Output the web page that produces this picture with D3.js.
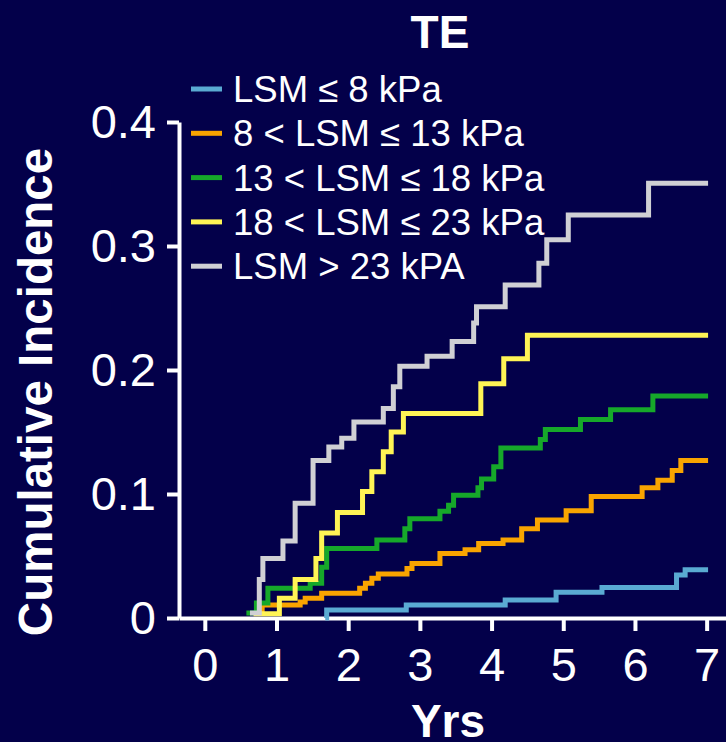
<!DOCTYPE html>
<html>
<head>
<meta charset="utf-8">
<script src="https://cdn.jsdelivr.net/npm/d3@7"></script>
<style>
  html, body { margin: 0; padding: 0; background: #03004a; }
  svg { display: block; }
  text { font-family: "Liberation Sans", Arial, sans-serif; fill: #fff; }
</style>
</head>
<body>
<script>
// step times (yrs) and cumulative incidence
const blueT = [1.68, 1.70, 2.81, 4.19, 4.90, 5.54, 6.58, 6.70];
const blueV = [0.000, 0.0065, 0.0105, 0.0145, 0.0207, 0.0245, 0.0347, 0.039];

const orangeT = [0.72, 0.80, 1.33, 1.40, 1.63, 2.16, 2.24, 2.33, 2.42, 2.82, 2.89, 3.28, 3.63, 3.82, 4.16, 4.42, 4.64, 5.04, 5.39, 6.10, 6.32, 6.52, 6.64];
const orangeV = [0.005, 0.0105, 0.013, 0.016, 0.020, 0.024, 0.028, 0.032, 0.0355, 0.040, 0.044, 0.052, 0.055, 0.060, 0.063, 0.072, 0.079, 0.0865, 0.098, 0.105, 0.111, 0.119, 0.127];

const greenT = [0.58, 0.72, 0.88, 1.47, 1.63, 1.70, 2.40, 2.79, 2.86, 3.28, 3.40, 3.47, 3.81, 3.86, 4.03, 4.13, 4.68, 4.75, 5.24, 5.66, 6.25];
const greenV = [0.004, 0.012, 0.024, 0.028, 0.041, 0.056, 0.063, 0.072, 0.080, 0.086, 0.091, 0.099, 0.105, 0.112, 0.122, 0.137, 0.144, 0.152, 0.160, 0.168, 0.179];

const yellowT = [0.68, 1.04, 1.26, 1.55, 1.63, 1.85, 2.20, 2.33, 2.49, 2.60, 2.77, 3.85, 4.17, 4.50];
const yellowV = [0.0035, 0.016, 0.031, 0.048, 0.0685, 0.085, 0.102, 0.118, 0.134, 0.150, 0.165, 0.189, 0.209, 0.228];

const grayT = [0.63, 0.76, 0.81, 1.09, 1.26, 1.51, 1.73, 1.91, 2.08, 2.49, 2.63, 2.72, 3.10, 3.45, 3.75, 3.79, 4.19, 4.66, 4.77, 5.07, 6.19];
const grayV = [0.004, 0.031, 0.048, 0.062, 0.0925, 0.127, 0.138, 0.145, 0.158, 0.169, 0.1865, 0.203, 0.211, 0.223, 0.238, 0.251, 0.2685, 0.286, 0.305, 0.325, 0.3506];

const endT = 7.02;
const legendLabels = ["LSM \u2264 8 kPa", "8 < LSM \u2264 13 kPa", "13 < LSM \u2264 18 kPa", "18 < LSM \u2264 23 kPa", "LSM > 23 kPA"];
const seriesColors = ["#5aaad2", "#f9a400", "#16a82a", "#fff455", "#d0d0d4"];
const xTicks = [0, 1, 2, 3, 4, 5, 6, 7];
const yTicks = [0, 0.1, 0.2, 0.3, 0.4];

const width = 726, height = 742;

const series = [
  {t: blueT, v: blueV}, {t: orangeT, v: orangeV}, {t: greenT, v: greenV},
  {t: yellowT, v: yellowV}, {t: grayT, v: grayV}
].map((s, i) => {
  const pts = s.t.map((t, j) => [t, s.v[j]]);
  pts.push([endT, s.v[s.v.length - 1]]);
  return {label: legendLabels[i], color: seriesColors[i], pts: pts};
});

const svg = d3.select("body").append("svg")
  .attr("width", width)
  .attr("height", height);

svg.append("rect").attr("width", width).attr("height", height).attr("fill", "#03004a");

const x = d3.scaleLinear().domain([-0.36, 7.27]).range([179, 726]);
const y = d3.scaleLinear().domain([0, 0.4]).range([618, 122]);

// x axis
const xAxis = svg.append("g")
  .attr("transform", `translate(0, ${y(0)})`)
  .call(d3.axisBottom(x).tickValues(xTicks).tickSize(13).tickSizeOuter(0).tickPadding(17));
xAxis.select(".domain").attr("stroke", "#fff").attr("stroke-width", 4);
xAxis.selectAll(".tick line").attr("stroke", "#fff").attr("stroke-width", 4);
xAxis.selectAll(".tick text").attr("font-size", 47).attr("fill", "#fff")
  .attr("font-family", "Liberation Sans, Arial, sans-serif");

// y axis
const yAxis = svg.append("g")
  .attr("transform", `translate(${x.range()[0]}, 0)`)
  .call(d3.axisLeft(y).tickValues(yTicks).tickSize(12).tickSizeOuter(0).tickPadding(11)
    .tickFormat(d => d === 0 ? "0" : d3.format(".1f")(d)));
yAxis.select(".domain").attr("stroke", "#fff").attr("stroke-width", 4);
yAxis.selectAll(".tick line").attr("stroke", "#fff").attr("stroke-width", 4);
yAxis.selectAll(".tick text").attr("font-size", 47).attr("fill", "#fff")
  .attr("font-family", "Liberation Sans, Arial, sans-serif");

// curves
const line = d3.line()
  .x(d => x(d[0]))
  .y(d => y(d[1]))
  .curve(d3.curveStepAfter);

svg.append("g")
  .selectAll("path")
  .data(series)
  .enter()
  .append("path")
  .attr("d", d => line(d.pts))
  .attr("fill", "none")
  .attr("stroke", d => d.color)
  .attr("stroke-width", 5)
  .attr("stroke-linejoin", "miter");

// legend
const legend = svg.append("g").attr("transform", "translate(191, 89)");
const rows = legend.selectAll("g")
  .data(series)
  .enter()
  .append("g")
  .attr("transform", (d, i) => `translate(0, ${i * 44.3})`);
rows.append("line")
  .attr("x1", 0).attr("x2", 31)
  .attr("stroke", d => d.color)
  .attr("stroke-width", 5);
rows.append("text")
  .attr("x", 42)
  .attr("dy", "0.36em")
  .attr("font-size", 36.5)
  .text(d => d.label);

// titles
svg.append("text")
  .attr("x", 440).attr("y", 48)
  .attr("text-anchor", "middle")
  .attr("font-size", 46).attr("font-weight", "bold")
  .text("TE");

svg.append("text")
  .attr("x", 448).attr("y", 737)
  .attr("text-anchor", "middle")
  .attr("font-size", 46).attr("font-weight", "bold")
  .text("Yrs");

svg.append("text")
  .attr("transform", "translate(52, 392) rotate(-90)")
  .attr("text-anchor", "middle")
  .attr("font-size", 47.5).attr("font-weight", "bold")
  .text("Cumulative Incidence");
</script>
</body>
</html>
